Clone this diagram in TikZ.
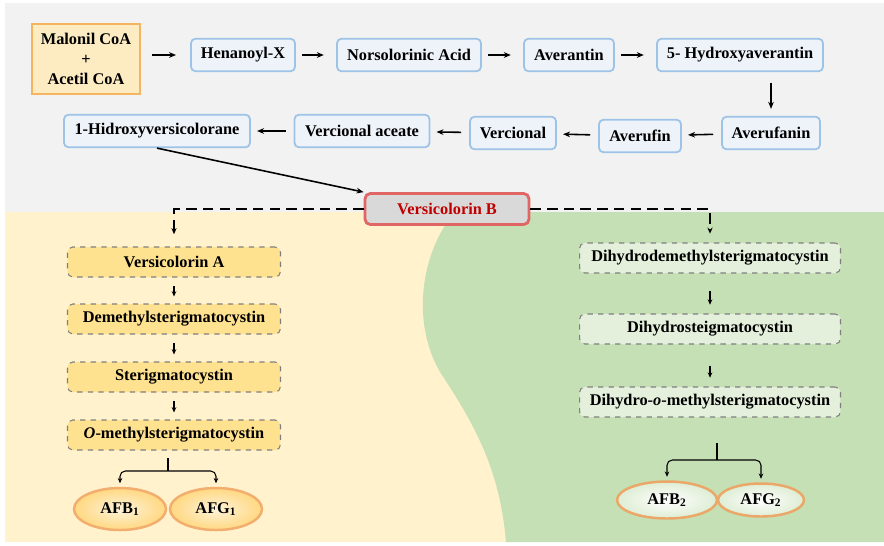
\documentclass[tikz,border=0pt]{standalone}
\usepackage{fontspec}
\setmainfont{Liberation Serif}
\usepackage{tikz}
\usetikzlibrary{shapes.geometric,arrows.meta}
\definecolor{topbg}{HTML}{F2F2F2}
\definecolor{leftbg}{HTML}{FFF2CC}
\definecolor{rightbg}{HTML}{C5E0B4}
\definecolor{blueline}{HTML}{9DC3E6}
\definecolor{bluefill}{HTML}{EEF3FA}
\definecolor{srcline}{HTML}{F4B460}
\definecolor{srcfill}{HTML}{FDEBC2}
\definecolor{goldfill}{HTML}{FFE28F}
\definecolor{mintfill}{HTML}{E4F0DC}
\definecolor{dashline}{HTML}{7F7F7F}
\definecolor{redline}{HTML}{E06666}
\definecolor{redtext}{HTML}{C00000}
\definecolor{ovalline}{HTML}{F2AE6E}

\begin{document}
\begin{tikzpicture}[x=0.02cm,y=-0.02cm,
        font=\fontsize{9.3}{11.3}\selectfont\bfseries,
        topbox/.style={draw=blueline,fill=bluefill,line width=1pt,rounded corners=2.5pt,minimum height=0.65cm,inner sep=2pt},
        srcbox/.style={draw=srcline,fill=srcfill,line width=1.2pt,minimum width=2.16cm,minimum height=1.4cm,align=center},
        keybox/.style={draw=redline,fill=black!15,line width=1.6pt,rounded corners=3pt,minimum width=3.28cm,minimum height=0.62cm,text=redtext},
        leftbox/.style={draw=dashline,fill=goldfill,dashed,line width=0.6pt,rounded corners=3pt,minimum width=4.26cm,minimum height=0.6cm},
        rightbox/.style={draw=dashline,fill=mintfill,dashed,line width=0.6pt,rounded corners=3pt,minimum width=5.22cm,minimum height=0.6cm},
        leftoval/.style={ellipse,draw=ovalline,line width=1.4pt,shading=radial,inner color=srcfill!60,outer color=goldfill!90!orange,minimum width=1.84cm,minimum height=0.84cm,inner sep=0pt},
        rightoval/.style={ellipse,draw=ovalline!85!brown,line width=1.4pt,shading=radial,inner color=white,outer color=mintfill!80!rightbg,inner sep=0pt},
        arr/.style={-{Stealth[length=4pt,width=3.2pt]},line width=0.9pt,shorten <=3.5pt,shorten >=7pt},
        backarr/.style={-{Stealth[length=4pt,width=3.2pt]},line width=0.9pt,shorten <=4.5pt,shorten >=3.5pt},
        tinyarr/.style={-{Stealth[length=3pt,width=2.6pt]},line width=0.6pt,shorten <=5pt,shorten >=4pt},
        branch/.style={-{Stealth[length=3pt,width=2.6pt]},line width=0.6pt,rounded corners=3pt,shorten >=2pt},
        split/.style={dash pattern=on 6pt off 3.5pt,line width=1.1pt,-{Stealth[length=3.5pt,width=3pt]}}]

    \useasboundingbox (0,0) rectangle (884,545);
    \fill[topbg] (5,3) rectangle (884,212);
    \fill[leftbg] (5,212) rectangle (884,542);
    \fill[rightbg] (455,212) .. controls (422,250) and (410,320) .. (440,372)
        .. controls (475,425) and (500,470) .. (506,542) -- (884,542) -- (884,212) -- cycle;

    \node[srcbox] (mal) at (86,59) {Malonil CoA\\+\\Acetil CoA};
    \node[topbox,minimum width=2.08cm] (hen) at (243,55) {Henanoyl-X};
    \node[topbox,minimum width=2.88cm] (nor) at (409,55) {Norsolorinic Acid};
    \node[topbox,minimum width=1.8cm] (ave) at (569,55) {Averantin};
    \node[topbox,minimum width=3.32cm] (hyd) at (740,55) {5- Hydroxyaverantin};
    \node[topbox,minimum width=1.96cm] (afn) at (771,133) {Averufanin};
    \node[topbox,minimum width=1.64cm] (afi) at (640,136) {Averufin};
    \node[topbox,minimum width=1.72cm] (ver) at (513,133) {Vercional};
    \node[topbox,minimum width=2.7cm] (vac) at (362,131) {Vercional aceate};
    \node[topbox,minimum width=3.72cm] (hid) at (157,131) {1-Hidroxyversicolorane};
    \node[keybox] (vb) at (447,209) {Versicolorin B};

    \node[leftbox] (vera) at (174,262) {Versicolorin A};
    \node[leftbox] (dms) at (174,319) {Demethylsterigmatocystin};
    \node[leftbox] (st) at (174,377) {Sterigmatocystin};
    \node[leftbox] (oms) at (174,435) {\textit{O}-methylsterigmatocystin};
    \node[leftoval] (afb1) at (120,509) {AFB\textsubscript{1}};
    \node[leftoval] (afg1) at (216,509) {AFG\textsubscript{1}};

    \node[rightbox] (dhd) at (710,258) {Dihydrodemethylsterigmatocystin};
    \node[rightbox] (dhs) at (710,329) {Dihydrosteigmatocystin};
    \node[rightbox] (dho) at (710,402) {Dihydro-\textit{o}-methylsterigmatocystin};
    \node[rightoval,minimum width=2.0cm,minimum height=0.74cm] (afb2) at (667,500) {AFB\textsubscript{2}};
    \node[rightoval,minimum width=1.72cm,minimum height=0.66cm] (afg2) at (761,500) {AFG\textsubscript{2}};

    \coordinate (lstem) at (168,458);
    \coordinate (lfork) at (168,471);
    \coordinate (rstem) at (717,443);
    \coordinate (rfork) at (717,460);

    \draw[arr,shorten <=6pt,shorten >=8pt] (mal.east |- hen.west) -- (hen);
    \draw[arr] (hen) -- (nor);
    \draw[arr] (nor) -- (ave);
    \draw[arr] (ave) -- (hyd);
    \draw[arr,shorten <=6pt,shorten >=4pt] (afn.north |- hyd.south) -- (afn.north);
    \draw[backarr] (afn) -- (afi);
    \draw[backarr] (afi) -- (ver);
    \draw[backarr] (ver) -- (vac);
    \draw[backarr] (vac) -- (hid);
    \draw[-{Stealth[length=4pt,width=3.2pt]},line width=0.9pt] (hid.south) -- (vb.north west);

    \draw[split,shorten >=7pt] (vb.west) -| (vera.north);
    \draw[split,shorten >=5pt] (vb.east) -| (dhd.north);

    \draw[tinyarr] (vera) -- (dms);
    \draw[tinyarr] (dms) -- (st);
    \draw[tinyarr] (st) -- (oms);
    \draw[line width=0.6pt] (lstem) -- (lfork);
    \draw[branch] (lfork) -| (afb1.north);
    \draw[branch] (lfork) -| (afg1.north);

    \draw[tinyarr,shorten <=10pt,shorten >=5pt] (dhd) -- (dhs);
    \draw[tinyarr,shorten <=12pt,shorten >=5pt] (dhs) -- (dho);
    \draw[line width=0.6pt] (rstem) -- (rfork);
    \draw[branch] (rfork) -| (afb2.north);
    \draw[branch] (rfork) -| (afg2.north);
\end{tikzpicture}
\end{document}
